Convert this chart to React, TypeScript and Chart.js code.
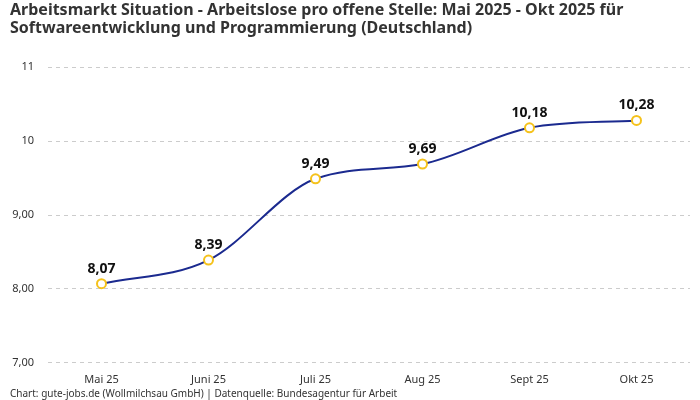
import React, { useEffect, useRef } from "react";
import { Chart, registerables, Plugin } from "chart.js";

Chart.register(...registerables);

const months = ["Mai 25", "Juni 25", "Juli 25", "Aug 25", "Sept 25", "Okt 25"];
const ratio = [8.07, 8.39, 9.49, 9.69, 10.18, 10.28];
const yTickLabels: { [k: number]: string } = { 7: "7,00", 8: "8,00", 9: "9,00", 10: "10", 11: "11" };

const FONT = "'Noto Sans', sans-serif";

// draws the value above every point
const valueLabels: Plugin<"line"> = {
  id: "valueLabels",
  afterDatasetsDraw(chart) {
    const ctx = chart.ctx;
    const meta = chart.getDatasetMeta(0);
    ctx.save();
    ctx.font = `bold 14px ${FONT}`;
    ctx.fillStyle = "#111";
    ctx.textAlign = "center";
    ctx.textBaseline = "bottom";
    meta.data.forEach((pt, i) => {
      ctx.fillText(ratio[i].toFixed(2).replace(".", ","), pt.x, pt.y - 8);
    });
    ctx.restore();
  },
};

const App: React.FC = () => {
  const canvasRef = useRef<HTMLCanvasElement | null>(null);

  useEffect(() => {
    document.body.style.margin = "0";
    if (!canvasRef.current) return;
    const chart = new Chart(canvasRef.current, {
      type: "line",
      data: {
        labels: months,
        datasets: [
          {
            data: ratio,
            borderColor: "#1b2a8f",
            borderWidth: 2,
            cubicInterpolationMode: "monotone",
            pointBackgroundColor: "#ffffff",
            pointBorderColor: "#f5c21b",
            pointBorderWidth: 2,
            pointRadius: 4.5,
          },
        ],
      },
      options: {
        animation: false,
        responsive: false,
        layout: { padding: { left: 10, right: 10, top: 0, bottom: 0 } },
        plugins: {
          legend: { display: false },
          tooltip: { enabled: false },
          title: {
            display: true,
            text: [
              "Arbeitsmarkt Situation - Arbeitslose pro offene Stelle: Mai 2025 - Okt 2025 für",
              "Softwareentwicklung und Programmierung (Deutschland)",
            ],
            align: "start",
            color: "#333",
            font: { family: FONT, size: 16, weight: "bold", lineHeight: 1.1 },
            padding: { top: 2, bottom: 30 },
          },
          subtitle: {
            display: true,
            position: "bottom",
            text: "Chart: gute-jobs.de (Wollmilchsau GmbH) | Datenquelle: Bundesagentur für Arbeit",
            align: "start",
            color: "#333",
            font: { family: FONT, size: 10 },
            padding: { top: 0, bottom: 0 },
          },
        },
        scales: {
          x: {
            offset: true,
            grid: { display: false },
            border: { display: false },
            ticks: { color: "#333", font: { family: FONT, size: 11 }, padding: 2 },
          },
          y: {
            min: 7,
            max: 11,
            border: { display: false, dash: [4, 4] },
            grid: { color: "#cccccc", drawTicks: false },
            afterFit: (s) => {
              s.width = 38;
            },
            ticks: {
              stepSize: 1,
              color: "#333",
              padding: 14,
              font: { family: FONT, size: 11 },
              callback: (v) => yTickLabels[Number(v)] ?? String(v),
            },
          },
        },
      },
      plugins: [valueLabels],
    });
    return () => chart.destroy();
  }, []);

  return <canvas ref={canvasRef} width={700} height={400} style={{ display: "block" }} />;
};

export default App;
